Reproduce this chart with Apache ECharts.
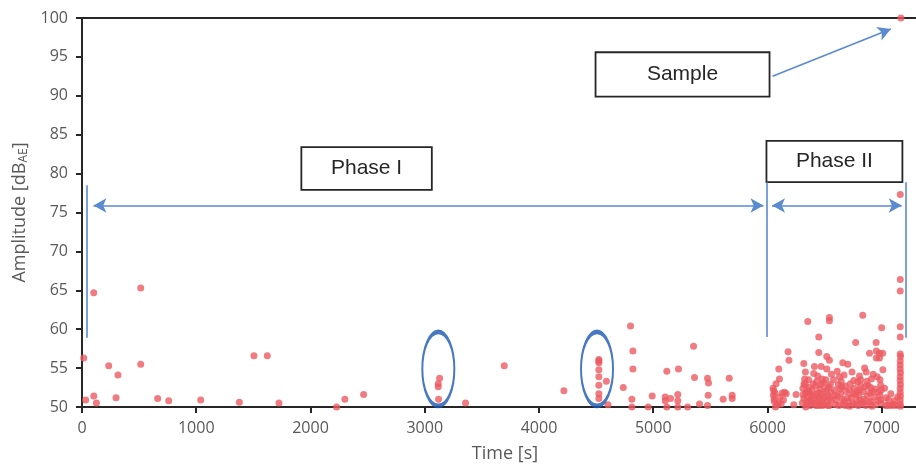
<!DOCTYPE html>
<html>
<head>
<meta charset="utf-8">
<script src="https://cdn.jsdelivr.net/npm/echarts@6/dist/echarts.min.js"></script>
<style>
  html, body { margin: 0; padding: 0; background: #fff; }
  #chart { width: 916px; height: 470px; }
</style>
</head>
<body>
<div id="chart"></div>
<script>
// tick labels
var xTicks = [0, 1000, 2000, 3000, 4000, 5000, 6000, 7000]
var yTicks = [50, 55, 60, 65, 70, 75, 80, 85, 90, 95, 100]

// AE hits, [time s, amplitude dB]
var phaseOnePoints = [
  [15, 56.3], [32, 50.9], [103, 64.7], [103, 51.4], [126, 50.5], [234, 55.3], [298, 51.2],
  [315, 54.1], [514, 65.3], [514, 55.5], [662, 51.1], [759, 50.8], [1039, 50.9], [1377, 50.6],
  [1505, 56.6], [1622, 56.6], [1724, 50.5], [2229, 50.0], [2301, 51.0], [2465, 51.6],
  [3130, 53.7], [3118, 53.0], [3118, 52.6], [3121, 51.0], [3357, 50.5], [3696, 55.3],
  [4218, 52.1], [4524, 56.1], [4524, 55.9], [4524, 55.7], [4524, 54.8], [4524, 53.9],
  [4524, 52.8], [4524, 51.7], [4524, 51.1], [4590, 53.3], [4604, 50.3], [4738, 52.5],
  [4801, 60.4], [4822, 57.2], [4822, 54.9], [4813, 51.0], [4813, 50.0], [4956, 50.0],
  [4991, 51.4], [5105, 51.3], [5105, 50.8], [5119, 54.6], [5119, 50.0], [5151, 51.1],
  [5215, 51.6], [5221, 54.9], [5215, 50.8], [5215, 50.0], [5301, 50.0], [5353, 57.8],
  [5361, 53.8], [5405, 50.4], [5475, 53.7], [5484, 53.1], [5481, 51.5], [5475, 50.2],
  [5612, 51.0], [5665, 53.7], [5691, 51.5], [5691, 51.1]
]

var phaseTwoPoints = [
  [6049, 52.4], [6055, 52.1], [6052, 51.5], [6058, 51.0], [6066, 51.8], [6060, 50.7],
  [6070, 50.0], [6085, 50.3], [6110, 51.3], [6129, 51.8], [6164, 51.7], [6099, 54.9],
  [6105, 53.6], [6180, 57.1], [6188, 56.0], [6095, 50.5], [6140, 50.9], [6075, 53.0],
  [6250, 51.6], [6230, 50.3], [6120, 50.4], [6150, 51.9],
  [6318, 55.6], [6332, 54.5], [6325, 53.6], [6320, 53.0], [6310, 52.4], [6335, 51.8],
  [6318, 51.1], [6345, 50.7], [6335, 50.0], [6360, 53.5], [6362, 52.5], [6350, 51.3],
  [6353, 61.0], [6340, 50.3], [6365, 51.9], [6370, 50.8], [6305, 50.5], [6312, 51.6],
  [6330, 52.9], [6348, 52.1], [6375, 50.2], [6380, 51.5],
  [6411, 55.2], [6449, 59.0], [6449, 57.0], [6470, 55.2], [6519, 54.9], [6519, 56.5],
  [6542, 56.0], [6542, 61.5], [6542, 61.1], [6478, 53.6], [6400, 53.0], [6390, 52.2],
  [6395, 51.4], [6385, 50.6], [6420, 52.7], [6430, 51.7], [6440, 50.9], [6425, 50.2],
  [6460, 52.4], [6455, 51.2], [6465, 50.5], [6490, 53.1], [6495, 52.0], [6485, 51.0],
  [6500, 50.3], [6510, 53.5], [6520, 52.3], [6530, 51.5], [6515, 50.7], [6540, 50.2],
  [6550, 52.9], [6555, 51.9], [6560, 50.9], [6440, 54.0], [6405, 54.3], [6560, 54.2],
  [6410, 51.0], [6418, 50.4], [6445, 51.8], [6450, 50.2], [6472, 51.7], [6480, 50.2],
  [6505, 51.3], [6528, 50.2], [6535, 52.6], [6545, 51.1], [6470, 52.9], [6432, 53.3],
  [6578, 53.5], [6586, 52.2], [6601, 50.9], [6590, 51.5], [6595, 50.3], [6610, 54.6],
  [6620, 52.9], [6630, 53.9], [6645, 53.3], [6650, 52.6], [6640, 51.7], [6655, 51.0],
  [6660, 50.3], [6659, 55.7], [6670, 54.1], [6703, 55.5], [6690, 52.0], [6700, 51.2],
  [6710, 50.6], [6717, 52.2], [6732, 51.3], [6746, 50.5], [6725, 53.0], [6740, 54.5],
  [6760, 52.4], [6770, 51.6], [6772, 58.3], [6780, 50.8], [6790, 53.2], [6795, 50.2],
  [6805, 54.0], [6815, 53.5], [6815, 52.8], [6805, 52.2], [6800, 51.5], [6810, 50.9],
  [6825, 50.4], [6612, 51.4], [6625, 50.2], [6635, 52.3], [6672, 50.8], [6680, 52.7],
  [6685, 50.2], [6720, 50.1], [6750, 51.7], [6755, 53.4], [6765, 50.3], [6785, 52.0],
  [6834, 61.8], [6864, 54.5], [6893, 56.9], [6850, 55.0], [6840, 52.0], [6845, 51.0],
  [6860, 50.2], [6880, 52.8], [6903, 52.5], [6898, 51.8], [6933, 51.3], [6870, 53.3],
  [6890, 50.6], [6915, 50.1], [6951, 58.3], [6953, 57.2], [6953, 56.3], [6981, 56.9],
  [6981, 56.3], [7000, 60.2], [7008, 56.9], [7010, 54.8], [6985, 53.5], [6990, 52.8],
  [6995, 52.2], [6985, 51.5], [6990, 50.9], [6995, 50.5], [6960, 53.9], [6940, 52.3],
  [6965, 50.8], [6925, 54.2], [6855, 52.6], [6875, 51.4], [6905, 50.7], [6920, 52.0],
  [6945, 50.3], [6970, 51.9], [6910, 53.6], [6838, 50.6],
  [7040, 51.2], [7060, 50.9], [7035, 50.2], [7058, 50.2], [7080, 51.7], [7100, 50.4],
  [7110, 50.8], [7125, 50.2], [7025, 52.4], [7090, 50.2], [7140, 51.3],
  [7162, 77.3], [7162, 66.4], [7162, 64.9], [7162, 60.3], [7162, 59.0], [7162, 56.8],
  [7164, 56.5], [7162, 55.9], [7162, 55.4], [7162, 54.9], [7164, 54.4], [7162, 53.9],
  [7162, 53.4], [7164, 52.9], [7162, 52.4], [7162, 51.9], [7164, 51.4], [7162, 50.9],
  [7162, 50.4], [7164, 50.1]
]

var samplePoint = [[7168, 100]]

// groups marked by ellipses
var ellipseCenters = [[3119, 54.9], [4508, 54.9]]

var lineBlue = '#5a8ad0'
var textFont = 'Open Sans'

var chart = echarts.init(document.getElementById('chart'))

function box(x0, y0, x1, y1, text) {
  return [
    { coord: [x0, y0], name: text },
    { coord: [x1, y1] }
  ]
}

function seg(x0, y0, x1, y1, s0, s1) {
  return [
    { coord: [x0, y0], symbol: s0 || 'none' },
    { coord: [x1, y1], symbol: s1 || 'none' }
  ]
}

chart.setOption({
  animation: false,
  backgroundColor: '#fff',
  grid: { left: 82, right: 0, top: 18, bottom: 63 },
  xAxis: [{
    type: 'value',
    min: 0,
    max: 7300,
    name: 'Time [s]',
    nameLocation: 'middle',
    nameGap: 38,
    nameTextStyle: { fontFamily: textFont, fontSize: 18, color: '#595959', padding: [0, 0, 0, 12] },
    splitLine: { show: false },
    axisLine: { lineStyle: { color: '#262626', width: 2 } },
    axisTick: { show: true, length: 6, lineStyle: { color: '#262626', width: 2 }, customValues: xTicks },
    axisLabel: {
      fontFamily: textFont, fontSize: 16, color: '#595959', margin: 13, customValues: xTicks,
      formatter: function (v) { return String(v) }
    }
  }, {
    type: 'value',
    position: 'top',
    min: 0,
    max: 7300,
    splitLine: { show: false },
    axisLine: { show: true, lineStyle: { color: '#262626', width: 2 } },
    axisTick: { show: false },
    axisLabel: { show: false }
  }],
  yAxis: {
    type: 'value',
    min: 50,
    max: 100,
    interval: 5,
    name: '{a|Amplitude [dB}{s|AE}{a|]}',
    nameLocation: 'middle',
    nameGap: 50,
    nameTextStyle: {
      fontFamily: textFont,
      fontSize: 18,
      color: '#595959',
      rich: {
        a: { fontFamily: textFont, fontSize: 18, color: '#595959' },
        s: { fontFamily: textFont, fontSize: 12, color: '#595959', verticalAlign: 'bottom', padding: [8, 0, 0, 0] }
      }
    },
    splitLine: { show: false },
    axisLine: { show: true, lineStyle: { color: '#262626', width: 2 } },
    axisTick: { show: true, length: 6, lineStyle: { color: '#262626', width: 2 }, customValues: yTicks },
    axisLabel: { fontFamily: textFont, fontSize: 16, color: '#595959', margin: 14, customValues: yTicks }
  },
  series: [{
    name: 'hits',
    type: 'scatter',
    symbolSize: 7,
    itemStyle: { color: '#ec5a60' },
    data: phaseOnePoints.concat(phaseTwoPoints, samplePoint),
    z: 3,
    markArea: {
      silent: true,
      itemStyle: { color: '#fff', borderColor: '#262626', borderWidth: 1.8 },
      label: {
        show: true,
        position: 'inside',
        fontFamily: 'Liberation Sans',
        fontSize: 21,
        color: '#262626'
      },
      data: [
        box(4495, 95.6, 6018, 89.9, 'Sample'),
        box(1920, 83.4, 3062, 77.9, 'Phase I'),
        box(5991, 84.2, 7181, 78.9, 'Phase II')
      ]
    },
    markLine: {
      silent: true,
      symbol: ['none', 'none'],
      symbolSize: [11, 13],
      label: { show: false },
      lineStyle: { color: lineBlue, width: 1.6, type: 'solid' },
      data: [
        seg(44, 78.5, 44, 58.9),
        seg(5990, 78.9, 5990, 59.0),
        seg(7213, 78.9, 7213, 58.9),
        seg(100, 75.9, 5965, 75.9, 'arrow', 'arrow'),
        seg(6040, 75.9, 7175, 75.9, 'arrow', 'arrow'),
        seg(6044, 92.5, 7080, 98.6, 'none', 'arrow')
      ]
    }
  }, {
    name: 'groups',
    type: 'scatter',
    symbol: 'circle',
    symbolSize: [32, 74],
    silent: true,
    itemStyle: { color: 'rgba(0,0,0,0)', borderColor: '#1a56b0', borderWidth: 3 },
    data: ellipseCenters,
    z: 4
  }]
})
</script>
</body>
</html>
